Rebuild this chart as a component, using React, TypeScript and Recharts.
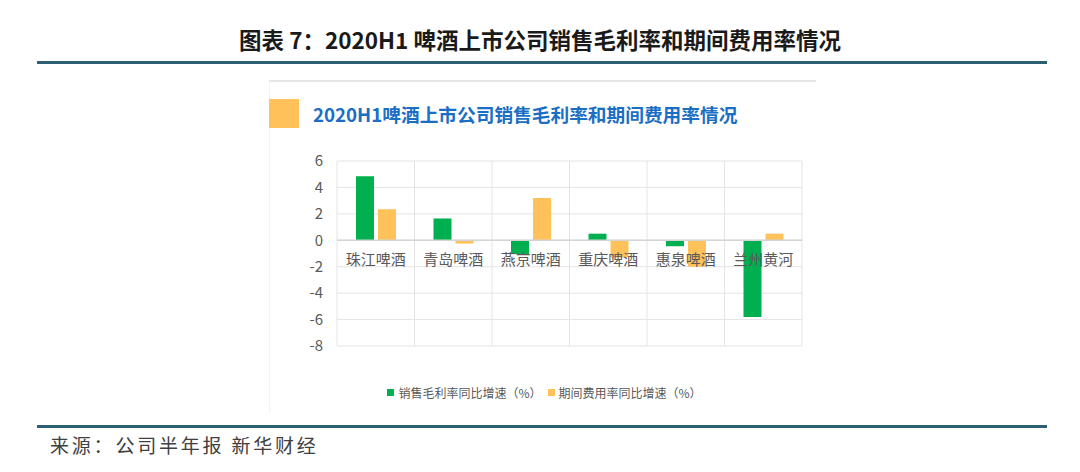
import React from 'react';
import { BarChart, Bar, XAxis, YAxis, CartesianGrid, ReferenceLine, Legend } from 'recharts';

const categories = ['珠江啤酒', '青岛啤酒', '燕京啤酒', '重庆啤酒', '惠泉啤酒', '兰州黄河'];
const grossMarginGrowth = [4.85, 1.65, -1.05, 0.5, -0.45, -5.8];
const expenseRateGrowth = [2.35, -0.25, 3.2, -1.3, -2.0, 0.5];
const yTicks = [-8, -6, -4, -2, 0, 2, 4, 6];
const seriesNames = ['销售毛利率同比增速（%）', '期间费用率同比增速（%）'];

const data = categories.map((name, i) => ({
  name,
  gross: grossMarginGrowth[i],
  expense: expenseRateGrowth[i],
}));

const FONT = '"Noto Sans CJK SC", "Noto Sans", sans-serif';
const GREEN = '#00B050';
const ORANGE = '#FFC25A';

const CHART_W = 560;
const CHART_H = 270;
const MARGIN = { top: 21, right: 26, bottom: 8, left: 19 };
const LEGEND_H = 20;
const XAXIS_H = 36;
const PLOT_H = CHART_H - MARGIN.top - MARGIN.bottom - LEGEND_H - XAXIS_H;
const Y_MIN = yTicks[0];
const Y_MAX = yTicks[yTicks.length - 1];

const CategoryTick = (props: any) => {
  const { x, payload } = props;
  const zeroY = MARGIN.top + (PLOT_H * Y_MAX) / (Y_MAX - Y_MIN);
  return (
    <text x={x} y={zeroY + 25} textAnchor="middle" fill="#595959" fontSize={15} fontFamily={FONT}>
      {payload.value}
    </text>
  );
};

const LegendContent = (props: any) => {
  const items = [...(props.payload || [])].sort(
    (a: any, b: any) => seriesNames.indexOf(a.value) - seriesNames.indexOf(b.value)
  );
  return (
    <div style={{ display: 'flex', justifyContent: 'center', alignItems: 'center', height: LEGEND_H, fontFamily: FONT, fontSize: 12, color: '#595959' }}>
      {items.map((p: any, i: number) => (
        <div key={i} style={{ display: 'flex', alignItems: 'center', marginRight: i === 0 ? 6 : 0 }}>
          <span style={{ display: 'inline-block', width: 7, height: 7, background: p.color, marginRight: 4 }} />
          <span>{p.value}</span>
        </div>
      ))}
    </div>
  );
};

export default function App() {
  return (
    <div style={{ position: 'absolute', left: 0, top: 0, width: 1080, height: 472, background: '#fff', overflow: 'hidden' }}>
      <div style={{ position: 'absolute', left: 0, width: 1080, top: 24, textAlign: 'center', fontFamily: FONT, fontSize: 22.5, fontWeight: 'bold', color: '#1a1a1a', lineHeight: '30px' }}>
        图表 7：2020H1 啤酒上市公司销售毛利率和期间费用率情况
      </div>
      <div style={{ position: 'absolute', left: 37, top: 61, width: 1010, height: 3, background: '#2d5f73' }} />

      <div style={{ position: 'absolute', left: 269, top: 80, width: 546, height: 330, borderTop: '2px solid #e6e6e6', borderLeft: '1px solid #f2f2f2' }} />
      <div style={{ position: 'absolute', left: 269, top: 99, width: 30, height: 29, background: ORANGE }} />
      <div style={{ position: 'absolute', left: 313, top: 100, fontFamily: FONT, fontSize: 18.7, fontWeight: 'bold', color: '#1a6ec4', lineHeight: '28px', whiteSpace: 'nowrap' }}>
        2020H1啤酒上市公司销售毛利率和期间费用率情况
      </div>

      <div style={{ position: 'absolute', left: 268, top: 140 }}>
        <BarChart width={CHART_W} height={CHART_H} data={data} margin={MARGIN} barSize={18} barGap={4}>
          <CartesianGrid
            stroke="#e4e4e4"
            verticalCoordinatesGenerator={(p: any) => {
              const off = p.offset;
              return categories.map((_, i) => off.left + (i * off.width) / categories.length).concat([off.left + off.width]);
            }}
          />
          <XAxis dataKey="name" height={XAXIS_H} axisLine={false} tickLine={false} tick={<CategoryTick />} interval={0} />
          <YAxis
            width={50}
            domain={[Y_MIN, Y_MAX]}
            ticks={yTicks}
            axisLine={false}
            tickLine={false}
            tickMargin={8}
            tick={{ fill: '#595959', fontSize: 15, fontFamily: FONT }}
            interval={0}
          />
          <ReferenceLine y={0} stroke="#d4d4d4" strokeWidth={1.5} />
          <Bar dataKey="gross" name={seriesNames[0]} fill={GREEN} isAnimationActive={false} />
          <Bar dataKey="expense" name={seriesNames[1]} fill={ORANGE} isAnimationActive={false} />
          <Legend verticalAlign="bottom" height={LEGEND_H} content={<LegendContent />} />
        </BarChart>
      </div>

      <div style={{ position: 'absolute', left: 37, top: 425, width: 1010, height: 3, background: '#2d5f73' }} />
      <div style={{ position: 'absolute', left: 50, top: 431, fontFamily: FONT, fontSize: 19, color: '#404040', letterSpacing: 2.8, lineHeight: '28px', whiteSpace: 'nowrap' }}>
        来源：公司半年报 新华财经
      </div>
    </div>
  );
}
